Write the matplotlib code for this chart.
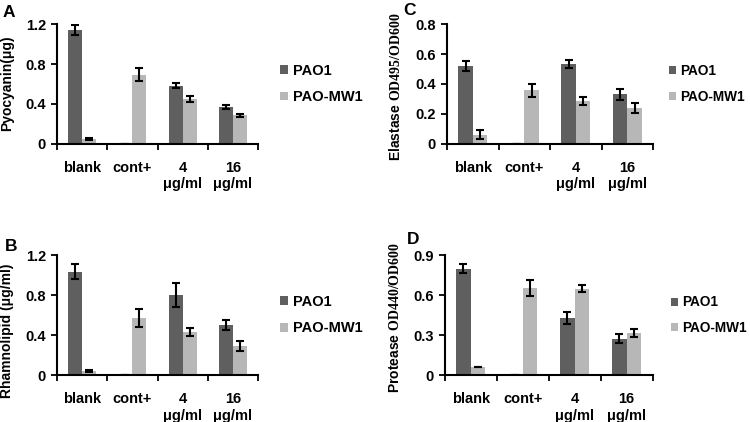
import numpy as np
import matplotlib
matplotlib.use("Agg")
import matplotlib.pyplot as plt
from matplotlib.ticker import FuncFormatter

# ---- data ----
categories = ["blank", "cont+", "4\nμg/ml", "16\nμg/ml"]
series_names = ["PAO1", "PAO-MW1"]

pyo_pao1 = [1.14, 0.0, 0.58, 0.37]
pyo_pao1_err = [0.05, 0.0, 0.025, 0.017]
pyo_mw1 = [0.05, 0.69, 0.45, 0.285]
pyo_mw1_err = [0.01, 0.065, 0.03, 0.017]

rha_pao1 = [1.035, 0.0, 0.805, 0.50]
rha_pao1_err = [0.075, 0.0, 0.12, 0.048]
rha_mw1 = [0.043, 0.575, 0.43, 0.29]
rha_mw1_err = [0.01, 0.088, 0.04, 0.048]

ela_pao1 = [0.52, 0.0, 0.533, 0.33]
ela_pao1_err = [0.033, 0.0, 0.025, 0.035]
ela_mw1 = [0.062, 0.357, 0.287, 0.238]
ela_mw1_err = [0.03, 0.044, 0.029, 0.034]

pro_pao1 = [0.80, 0.0, 0.43, 0.274]
pro_pao1_err = [0.034, 0.0, 0.048, 0.032]
pro_mw1 = [0.062, 0.656, 0.65, 0.32]
pro_mw1_err = [0.0, 0.062, 0.028, 0.03]

DARK = "#5f5f5f"
LIGHT = "#b7b7b7"

plt.rcParams["font.family"] = ["Liberation Sans", "DejaVu Sans"]
plt.rcParams["font.weight"] = "bold"
plt.rcParams["mathtext.fontset"] = "custom"
plt.rcParams["mathtext.rm"] = "Liberation Serif"


def draw_panel(ax, v1, e1, v2, e2, ymax, ystep, ylabel, letter,
               label_xy, letter_xy, legend_x, legend_fs=10.5):
    x = np.arange(len(categories))
    w = 0.28
    kw = dict(ecolor="black", capsize=3, error_kw=dict(elinewidth=1.5, capthick=1.5))
    # no error bar where the bar is absent
    ax.bar(x - w / 2, v1, w, yerr=[0 if v == 0 else e for v, e in zip(v1, e1)],
           color=DARK, label=series_names[0], **kw)
    ax.bar(x + w / 2, v2, w, yerr=e2, color=LIGHT, label=series_names[1], **kw)

    ax.set_xlim(-0.5, len(categories) - 0.5)
    ax.set_ylim(0, ymax)
    ax.set_yticks(np.arange(0, ymax + 1e-9, ystep))
    ax.yaxis.set_major_formatter(FuncFormatter(lambda v, p: f"{v:g}"))
    ax.set_xticks(x)
    ax.set_xticklabels(categories, fontsize=10.5, fontweight="bold", linespacing=1.25)
    ax.set_xticks(np.arange(-0.5, len(categories)), minor=True)
    ax.tick_params(axis="x", which="major", length=0, pad=12)
    ax.tick_params(axis="x", which="minor", length=4, width=1.3, direction="out")
    ax.tick_params(axis="y", length=4, width=1.3, direction="out", labelsize=10.5, pad=4)
    for s in ["top", "right"]:
        ax.spines[s].set_visible(False)
    for s in ["left", "bottom"]:
        ax.spines[s].set_linewidth(1.5)

    ax.set_ylabel(ylabel, fontsize=10, fontweight="bold")
    ax.yaxis.set_label_coords(*label_xy)
    ax.legend(loc="center left", bbox_to_anchor=(legend_x, 0.5), frameon=False,
              fontsize=legend_fs, handlelength=0.55, handleheight=0.55,
              handletextpad=0.3, labelspacing=0.85)
    ax.text(letter_xy[0], letter_xy[1], letter, transform=ax.transAxes,
            fontsize=12.5, fontweight="bold", va="baseline", ha="left")


fig = plt.figure(figsize=(7.5, 4.22), dpi=100)
axA = fig.add_axes([0.076, 0.659, 0.268, 0.284])
axB = fig.add_axes([0.076, 0.111, 0.268, 0.284])
axC = fig.add_axes([0.596, 0.659, 0.275, 0.284])
axD = fig.add_axes([0.593, 0.111, 0.277, 0.284])

draw_panel(axA, pyo_pao1, pyo_pao1_err, pyo_mw1, pyo_mw1_err, 1.2, 0.4,
           "Pyocyanin(μg)", "A", (-0.215, 0.51), (-0.27, 1.058), 1.045)
draw_panel(axB, rha_pao1, rha_pao1_err, rha_mw1, rha_mw1_err, 1.2, 0.4,
           "Rhamnolipid (μg/ml)", "B", (-0.215, 0.37), (-0.26, 1.033), 1.045)
draw_panel(axC, ela_pao1, ela_pao1_err, ela_mw1, ela_mw1_err, 0.8, 0.2,
           "Elastase $\\mathrm{OD495/OD600}$", "C", (-0.215, 0.475), (-0.214, 1.075),
           1.015, legend_fs=9.8)
draw_panel(axD, pro_pao1, pro_pao1_err, pro_mw1, pro_mw1_err, 0.9, 0.3,
           "Protease $\\mathrm{OD440/OD600}$", "D", (-0.205, 0.48), (-0.183, 1.092),
           1.03, legend_fs=9.8)

fig.savefig("out.png", dpi=100, facecolor="white")
